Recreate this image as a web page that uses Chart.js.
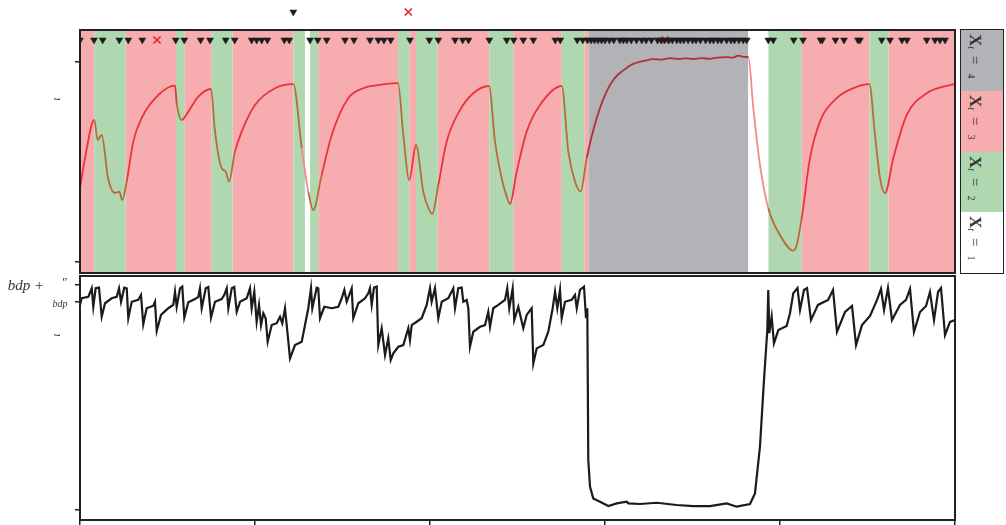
<!DOCTYPE html>
<html>
<head>
<meta charset="utf-8">
<script src="https://cdn.jsdelivr.net/npm/chart.js@4.4.1/dist/chart.umd.min.js"></script>
<style>
  body { margin: 0; background: #fff; width: 1006px; height: 525px; overflow: hidden; position: relative; }
  #upperBox { position: absolute; left: 0; top: 0; }
  #lowerBox { position: absolute; left: 0; top: 274px; }
  #key { position: absolute; left: 960px; top: 29px; width: 44px; height: 245px; border: 1px solid #222; box-sizing: border-box; }
  .k { writing-mode: vertical-rl; width: 42px; height: 60.75px; line-height: 42px; padding-top: 4px; box-sizing: border-box;
       font-family: "Liberation Serif", serif; color: #333; white-space: nowrap; }
  .k span.t { position: relative; left: -7px; }
  .k b { font-size: 17px; }
  .k i { font-size: 10px; vertical-align: sub; }
  .k .eq { font-size: 15px; margin-inline: 7px 9px; }
  .k .n { font-size: 10px; vertical-align: sub; }
</style>
</head>
<body>
<canvas id="upperBox" width="960" height="276"></canvas>
<canvas id="lowerBox" width="960" height="251"></canvas>
<div id="key"></div>
<script>
// time axis (0..100) and tick positions
const xTicks = [0, 20, 40, 60, 80, 100];
const upperTicks = [0, 100];
const lowerTicks = [0, 100, 108.2];

// state bands: start of each band and its state X_t
const bandStart = [0, 1.63, 5.22, 10.97, 11.92, 15.05, 17.41, 24.38, 25.71, 26.29, 27.23, 36.34, 37.63, 38.4,
  40.88, 46.78, 49.52, 55.05, 57.63, 58.09, 76.38, 78.66, 82.48, 90.21, 92.38];
const bandState = [3, 2, 3, 2, 3, 2, 3, 2, 1, 2, 3, 2, 3, 2,
  3, 2, 3, 2, 3, 4, 1, 2, 3, 2, 3];
const keyStates = [4, 3, 2, 1];

// upper panel curve
const upperT = [0, 0.57, 1.63, 2.02, 2.48, 3.2, 4.0, 4.49, 4.83, 5.34, 6.09, 7.05, 8.95, 10.86, 11.05, 11.62, 12.38, 13.52, 14.97,
  15.43, 16.19, 16.65, 17.03, 17.71, 18.48, 20, 22.29, 24.38, 25.34, 26.09, 26.66, 27.62, 28.77, 30.66, 32.57, 33.71,
  36.34, 36.95, 37.63, 38.4, 39.23, 39.81, 40.26, 40.95, 41.91, 43.43, 44.95, 46.74, 47.43, 48.19, 48.77, 49.14,
  49.91, 51.05, 52.57, 55.05, 55.81, 56.57, 57.22, 57.91, 59.05, 60.57, 62.86, 63.5, 64.5, 65.52, 66.5, 67.43,
  68.5, 69.2, 70.06, 71, 72, 72.8, 73.91, 74.6, 75.23, 75.8, 76.38, 76.95, 77.71, 78.66, 80, 81.52, 81.91, 82.48,
  83.43, 84.57, 86.48, 88.38, 90.21, 90.86, 91.43, 92, 92.95, 94.48, 96.77, 98.66, 100];
const upperV = [36.9, 51.9, 71, 61, 63.5, 42, 34.5, 35.2, 31, 40.2, 60.2, 72, 83.5, 88.2, 79.5, 71, 75.2, 82.7, 86.5,
  65.2, 46.9, 45.2, 40.2, 55.2, 65.2, 78.5, 86.9, 88.9, 56.9, 35.2, 26, 43.5, 63.5, 81.9, 87.2, 88.2,
  89.4, 63.5, 41, 58.5, 35.2, 27, 24, 38.5, 60.2, 76, 84.4, 88, 60.2, 41.9, 32.7, 29,
  45.2, 65.2, 78.5, 88, 55.2, 40.2, 35.2, 51.9, 71.9, 88.5, 98.2, 99.5, 100.6, 101.4, 101.2, 101.9,
  101.5, 101.8, 101.5, 101.9, 101.6, 102.2, 102.4, 102.2, 103.2, 102.6, 102.5, 76.9, 48.5, 26.9, 13.5, 5.7, 8.5, 21.9,
  51.9, 70.2, 81.9, 86.9, 88.9, 63.5, 41.9, 34.4, 51.9, 73.5, 84.4, 87.7, 89];

// event markers
const markRow = 111;
const outsideRow = 125;
const sendT = [0, 1.6, 2.59, 4.49, 5.52, 7.12, 10.94, 11.92, 13.79, 14.86, 16.65, 17.68, 19.62, 20.19, 20.77, 21.41,
  23.35, 23.92, 26.29, 27.17, 28.19, 30.29, 31.31, 33.14, 34.09, 34.74, 35.51, 37.71, 39.92, 40.95, 42.86, 43.74,
  44.4, 46.78, 48.77, 49.57, 50.66, 51.81, 54.32, 54.89, 56.83, 57.45, 58.0, 58.4, 58.8, 59.2, 59.6, 60.0, 60.5,
  61.0, 61.7, 62.1, 62.5, 63.0, 63.6, 64.2, 64.7, 65.3, 66.0, 66.4, 66.8, 67.3, 67.7, 68.2, 68.6, 69.0, 69.5, 70.0,
  70.4, 70.9, 71.5, 72.0, 72.4, 72.9, 73.3, 73.9, 74.4, 74.8, 75.3, 75.8, 76.2, 78.66, 79.23, 81.57, 82.63, 84.63,
  84.83, 86.34, 87.31, 88.91, 89.14, 91.62, 92.57, 93.94, 94.51, 96.77, 97.71, 98.29, 98.86];
const lossT = [8.8, 66.86];
const outsideSendT = [24.38];
const outsideLossT = [37.52];

// lower panel curve
const lowerT = [0, 0.19, 0.95, 1.34, 1.52, 1.79, 2.17, 2.48, 2.86, 3.62,
  4.19, 4.46, 4.69, 5.06, 5.34, 5.52, 5.91, 6.66, 6.97, 7.23,
  7.62, 8.38, 8.57, 8.77, 9.26, 10.09, 10.66, 10.86, 11.05, 11.43,
  11.69, 11.92, 12.38, 13.14, 13.52, 13.71, 13.91, 14.37, 14.66, 14.97,
  15.43, 16.19, 16.49, 16.77, 16.95, 17.34, 17.63, 17.91, 18.29, 19.05,
  19.43, 19.62, 19.92, 20.19, 20.46, 20.69, 20.95, 21.22, 21.45, 21.91,
  22.48, 22.86, 23.12, 23.43, 23.74, 24, 24.57, 25.34, 26.09, 26.4,
  26.55, 27.05, 27.23, 27.43, 27.92, 28.77, 29.52, 29.91, 30.21, 30.48,
  31.05, 31.23, 31.81, 32.57, 32.95, 33.14, 33.34, 33.6, 33.91, 34.09,
  34.48, 34.86, 35.23, 35.51, 35.81, 36.38, 36.95, 37.52, 37.71, 37.91,
  38.48, 39.05, 39.62, 40, 40.19, 40.57, 40.95, 41.34, 42.09, 42.48,
  42.66, 42.86, 43.23, 43.62, 43.81, 44.19, 44.38, 44.57, 44.95, 45.71,
  46.29, 46.66, 46.86, 47.23, 47.81, 48.57, 48.83, 49.06, 49.45, 49.63,
  50.09, 50.66, 51.05, 51.62, 51.81, 52.19, 52.95, 53.52, 54.02, 54.29,
  54.55, 54.86, 55.05, 55.43, 56.19, 56.57, 56.77, 57.14, 57.6, 57.83,
  57.98, 58.09, 58.29, 58.66, 59.43, 60.38, 61.34, 62.48, 62.66, 64,
  65.91, 68.19, 70.09, 72, 73.91, 75.05, 76.57, 77.14, 77.71, 78.17,
  78.55, 78.66, 78.78, 79.05, 79.31, 79.81, 80.76, 81.14, 81.52, 82.0,
  82.29, 82.74, 83.09, 83.54, 84.34, 85.49, 86.06, 86.51, 87.43, 88.23,
  88.69, 89.37, 90.29, 91.09, 91.54, 91.89, 92.34, 92.8, 93.71, 94.4,
  94.86, 95.31, 96, 96.69, 97.14, 97.6, 98.06, 98.4, 98.86, 99.43,
  100];
const lowerV = [98.6, 101.8, 102.5, 106.6, 97.7, 106.6, 106.9, 92.9, 99.4, 101.8,
  102.5, 106.6, 100.1, 106.9, 106.6, 92.2, 100.1, 101, 103.4, 89.3,
  97, 98.2, 100.1, 86.1, 93.8, 97, 98.6, 105, 97.7, 106.6,
  107.4, 92.5, 99.9, 101.4, 102.5, 106.6, 97, 106.6, 107.2, 92.5,
  100.1, 101.4, 103.4, 106.6, 97, 106.6, 107.2, 95.3, 100.1, 101.8,
  106.6, 97, 105, 90.5, 98.6, 88.9, 94.6, 92.2, 80.9, 88.9,
  89.8, 92.9, 89.8, 97, 84.1, 72.9, 79.3, 80.9, 97, 106.6,
  97, 106.9, 106.6, 92.2, 97.7, 97, 97.7, 101.8, 105.8, 100.1,
  106.6, 92.2, 99.4, 101.8, 104.2, 106.6, 98.6, 106.9, 107.4, 79.3,
  87.4, 74.5, 82.5, 72.1, 75.3, 78.5, 79.3, 87.4, 81.7, 88.9,
  90.5, 92.2, 98.6, 106.6, 100.1, 106.6, 92.2, 100.1, 101.8, 105,
  106.6, 97, 106.6, 106.9, 100.1, 101, 97, 78.5, 85.7, 88.1,
  88.9, 95.3, 88.1, 97, 98.6, 101, 106.6, 97, 106.6, 91.3,
  97.7, 87.4, 93.8, 97, 70.5, 77.7, 79.3, 85.7, 97, 105,
  97, 105.8, 92.2, 100.1, 101, 103.4, 97, 105.8, 107.4, 92.2,
  97, 24, 11.2, 5.6, 4, 1.9, 3.2, 4, 3.2, 2.9,
  3.5, 2.4, 1.9, 1.9, 3.2, 1.6, 2.9, 8, 30.4, 62.5,
  86.5, 105.8, 85, 92.9, 80.1, 86.5, 88.5, 94.6, 104.2, 106.7,
  96.2, 105.8, 106.7, 91.3, 98.6, 101, 105.8, 85.6, 95.2, 98.1,
  79.3, 88.9, 93.3, 101, 106.3, 96.2, 106.7, 91.3, 98.6, 101,
  106.3, 85.6, 95.2, 98.1, 104.8, 91.3, 104.8, 106.7, 84.1, 90.4,
  91.3];

// styling
const bandColor = { 1: '#ffffff', 2: '#afd8b0', 3: '#f7adb0', 4: '#b2b3b7' };
const lineColor = { 1: '#f08c8c', 2: '#b96a3c', 3: '#ea3439', 4: '#b3303a' };
const ink = '#222';
const U_MIN = -5.5, U_TOP = 116, U_MAX = 129;   // panel ends at U_TOP, room above for outside markers
const L_MIN = -4.8, L_MAX = 112.5;

function stateAt(t) {
  let s = bandState[0];
  for (let i = 0; i < bandStart.length; i++) if (t >= bandStart[i]) s = bandState[i];
  return s;
}

// legend panel
const key = document.getElementById('key');
keyStates.forEach(s => {
  const d = document.createElement('div');
  d.className = 'k';
  d.style.background = bandColor[s];
  d.innerHTML = '<span class="t"><b>X</b><i>t</i><span class="eq">=</span><span class="n">' + s + '</span></span>';
  key.appendChild(d);
});

const framePlugin = {
  id: 'frame',
  afterDraw(chart, args, opts) {
    const { ctx, chartArea: a } = chart;
    const top = opts.top === undefined ? a.top : chart.scales.y.getPixelForValue(opts.top);
    ctx.save();
    ctx.strokeStyle = ink;
    ctx.lineWidth = 2;
    ctx.strokeRect(a.left, top, a.right - a.left, a.bottom - top);
    ctx.restore();
  }
};

const notesPlugin = {
  id: 'notes',
  afterDraw(chart, args, opts) {
    const ctx = chart.ctx, y = chart.scales.y;
    (opts.items || []).forEach(n => {
      ctx.save();
      ctx.font = n.font;
      ctx.fillStyle = '#333';
      ctx.textAlign = n.align || 'center';
      ctx.textBaseline = 'middle';
      ctx.translate(n.x, y.getPixelForValue(n.value) + (n.dy || 0));
      if (n.rotate) ctx.rotate(-Math.PI / 2);
      ctx.fillText(n.text, 0, 0);
      ctx.restore();
    });
  }
};

const bandSets = [1, 2, 3, 4].map(k => ({
  data: bandStart.map((t, i) => ({ x: t, y: bandState[i] === k ? U_TOP : U_MIN }))
    .concat([{ x: 100, y: bandState[bandState.length - 1] === k ? U_TOP : U_MIN }]),
  stepped: true,
  fill: 'start',
  backgroundColor: bandColor[k],
  borderColor: 'transparent',
  borderWidth: 0,
  pointRadius: 0,
  order: 3
}));

const markerStyle = (color, style, r) => ({
  showLine: false,
  pointStyle: style,
  pointRadius: r,
  pointRotation: style === 'triangle' ? 180 : 0,
  backgroundColor: color,
  borderColor: color,
  borderWidth: style === 'triangle' ? 0.5 : 1.6,
  order: 0
});

const axisY = (ticks, w, border) => ({
  afterFit: s => { s.width = w; },
  afterBuildTicks: s => { s.ticks = ticks.map(v => ({ value: v })); },
  ticks: { display: false },
  grid: { drawOnChartArea: false, tickLength: 5, color: ink, lineWidth: 1.5 },
  border: { display: border, color: ink, width: 2 }
});

new Chart(document.getElementById('upperBox'), {
  type: 'line',
  data: {
    datasets: [
      Object.assign({ data: sendT.map(t => ({ x: t, y: markRow })) }, markerStyle('#1c1c1c', 'triangle', 4)),
      Object.assign({ data: lossT.map(t => ({ x: t, y: markRow })) }, markerStyle('#e8202a', 'crossRot', 5)),
      Object.assign({ data: outsideSendT.map(t => ({ x: t, y: outsideRow })) }, markerStyle('#1c1c1c', 'triangle', 4)),
      Object.assign({ data: outsideLossT.map(t => ({ x: t, y: outsideRow })) }, markerStyle('#e8202a', 'crossRot', 5)),
      {
        data: upperT.map((t, i) => ({ x: t, y: upperV[i] })),
        borderWidth: 1.8,
        pointRadius: 0,
        cubicInterpolationMode: 'monotone',
        borderColor: lineColor[3],
        segment: { borderColor: c => lineColor[stateAt((c.p0.parsed.x + c.p1.parsed.x) / 2)] },
        order: 1
      }
    ].concat(bandSets)
  },
  options: {
    responsive: false,
    animation: false,
    events: [],
    layout: { autoPadding: false, padding: { top: 4, bottom: 3, right: 5, left: 0 } },
    plugins: {
      legend: { display: false },
      tooltip: { enabled: false },
      frame: { top: U_TOP },
      notes: { items: [{ value: 81.5, text: 'ι', x: 57, rotate: true, font: 'italic 12px "Liberation Serif"' }] }
    },
    scales: {
      x: { type: 'linear', min: 0, max: 100, display: false },
      y: Object.assign({ min: U_MIN, max: U_MAX }, axisY(upperTicks, 80, false))
    }
  },
  plugins: [framePlugin, notesPlugin]
});

new Chart(document.getElementById('lowerBox'), {
  type: 'line',
  data: {
    datasets: [{
      data: lowerT.map((t, i) => ({ x: t, y: lowerV[i] })),
      borderColor: '#1b1b1b',
      borderWidth: 2.2,
      pointRadius: 0,
      tension: 0
    }]
  },
  options: {
    responsive: false,
    animation: false,
    events: [],
    layout: { autoPadding: false, padding: { top: 2, bottom: 0, right: 5, left: 0 } },
    plugins: {
      legend: { display: false },
      tooltip: { enabled: false },
      notes: { items: [
        { value: 108.2, text: 'bdp +', x: 26, dy: 1, font: 'italic 15px "Liberation Serif"' },
        { value: 108.2, text: '\u2033', x: 65, dy: -2, font: '13px "Liberation Serif"' },
        { value: 100, text: 'bdp', x: 60, dy: 2, font: 'italic 10px "Liberation Serif"' },
        { value: 84.1, text: 'ι', x: 57, rotate: true, font: 'italic 12px "Liberation Serif"' }
      ] }
    },
    scales: {
      x: {
        type: 'linear', min: 0, max: 100,
        afterFit: s => { s.height = 5; },
        afterBuildTicks: s => { s.ticks = xTicks.map(v => ({ value: v })); },
        ticks: { display: false },
        grid: { drawOnChartArea: false, tickLength: 5, color: ink, lineWidth: 1.5 },
        border: { color: ink, width: 2 }
      },
      y: Object.assign({ min: L_MIN, max: L_MAX }, axisY(lowerTicks, 80, true))
    }
  },
  plugins: [framePlugin, notesPlugin]
});
</script>
</body>
</html>
